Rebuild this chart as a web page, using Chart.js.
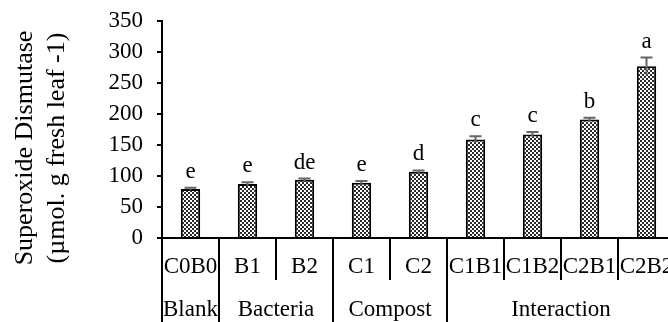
<!DOCTYPE html>
<html>
<head>
<meta charset="utf-8">
<script src="https://cdn.jsdelivr.net/npm/chart.js@4.4.0/dist/chart.umd.min.js"></script>
<style>
html, body { margin: 0; padding: 0; overflow: hidden; background: #fff; }
#wrap { width: 680px; height: 322px; }
#myChart { width: 680px; height: 322px; }
</style>
</head>
<body>
<div id="wrap"><canvas id="myChart" width="680" height="322"></canvas></div>
<script>
// datos
var categories = ['C0B0', 'B1', 'B2', 'C1', 'C2', 'C1B1', 'C1B2', 'C2B1', 'C2B2'];
var sodValues = [79, 87, 94, 89, 107, 159, 167, 191, 277];
var sodErrors = [2, 3, 2, 3, 2, 5, 4, 3, 14];
var letters = ['e', 'e', 'de', 'e', 'd', 'c', 'c', 'b', 'a'];
var groups = ['Blank', 'Bacteria', 'Compost', 'Interaction'];
var groupSizes = [1, 2, 2, 4];
var yTitle = ['Superoxide Dismutase', '(\u00b5mol. g fresh leaf -1)'];

var FONT = 'Liberation Serif, Times New Roman, serif';

function makePattern(ctx) {
    var c = document.createElement('canvas');
    c.width = 4; c.height = 4;
    var g = c.getContext('2d');
    g.fillStyle = '#fff';
    g.fillRect(0, 0, 4, 4);
    g.fillStyle = '#2a2a2a';
    g.fillRect(0, 0, 2, 2);
    g.fillRect(2, 2, 2, 2);
    return ctx.createPattern(c, 'repeat');
}

var extras = {
    id: 'extras',
    afterDatasetsDraw: function (chart) {
        var ctx = chart.ctx;
        var x = chart.scales.x, y = chart.scales.y;
        ctx.save();
        // barras de error
        ctx.strokeStyle = '#666';
        ctx.lineWidth = 2;
        sodValues.forEach(function (v, i) {
            var px = x.getPixelForValue(i);
            var top = y.getPixelForValue(v + sodErrors[i]);
            var bot = y.getPixelForValue(v - sodErrors[i]);
            ctx.beginPath();
            ctx.moveTo(px, top); ctx.lineTo(px, bot);
            ctx.moveTo(px - 6, top); ctx.lineTo(px + 6, top);
            ctx.stroke();
        });
        // letras
        ctx.fillStyle = '#000';
        ctx.font = '23px ' + FONT;
        ctx.textAlign = 'center';
        ctx.textBaseline = 'middle';
        letters.forEach(function (l, i) {
            var px = x.getPixelForValue(i);
            var top = y.getPixelForValue(sodValues[i] + sodErrors[i]);
            ctx.fillText(l, px, top - 16);
        });
        ctx.restore();
    },
    afterDraw: function (chart) {
        var ctx = chart.ctx;
        var x = chart.scales.x;
        var area = chart.chartArea;
        var H = chart.height;
        ctx.save();
        // titulo eje y
        ctx.fillStyle = '#000';
        ctx.font = '26px ' + FONT;
        ctx.textAlign = 'center';
        ctx.textBaseline = 'middle';
        ctx.translate(0, 148);
        ctx.rotate(-Math.PI / 2);
        ctx.fillText(yTitle[0], 0, 25);
        ctx.fillText(yTitle[1], 0, 57);
        ctx.restore();

        // divisiones del eje x
        ctx.save();
        ctx.strokeStyle = '#000';
        ctx.lineWidth = 2;
        var half = (x.getPixelForValue(1) - x.getPixelForValue(0)) / 2;
        var full = {};
        var acc = 0;
        groupSizes.forEach(function (s) { full[acc] = true; acc += s; });
        for (var i = 0; i < categories.length; i++) {
            var bx = x.getPixelForValue(i) - half;
            if (i === 0) bx = area.left;
            ctx.beginPath();
            ctx.moveTo(bx, area.bottom);
            ctx.lineTo(bx, full[i] ? H : 280);
            ctx.stroke();
        }
        // grupos
        ctx.fillStyle = '#000';
        ctx.font = '23px ' + FONT;
        ctx.textAlign = 'center';
        ctx.textBaseline = 'middle';
        acc = 0;
        groups.forEach(function (g, k) {
            var a = x.getPixelForValue(acc) - half;
            var b = x.getPixelForValue(acc + groupSizes[k] - 1) + half;
            ctx.fillText(g, (a + b) / 2, 310);
            acc += groupSizes[k];
        });
        ctx.restore();
    }
};

var ctx = document.getElementById('myChart').getContext('2d');
new Chart(ctx, {
    type: 'bar',
    data: {
        labels: categories,
        datasets: [{
            label: 'SOD',
            data: sodValues,
            backgroundColor: makePattern(ctx),
            borderColor: '#000',
            borderWidth: 2,
            barPercentage: 0.34,
            categoryPercentage: 1
        }]
    },
    plugins: [extras],
    options: {
        responsive: false,
        animation: false,
        layout: { padding: { top: 21, right: 5, left: 0, bottom: 0 } },
        plugins: { legend: { display: false }, tooltip: { enabled: false } },
        scales: {
            x: {
                afterFit: function (s) { s.height = 84; s.paddingLeft = 0; s.paddingRight = 0; },
                grid: { drawOnChartArea: false, drawTicks: false },
                border: { color: '#000', width: 2 },
                ticks: {
                    color: '#000', font: { family: FONT, size: 23 },
                    padding: 15, autoSkip: false, maxRotation: 0, minRotation: 0
                }
            },
            y: {
                min: 0,
                max: 350,
                afterFit: function (s) { s.width = 162; s.paddingTop = 0; s.paddingBottom = 0; },
                grid: { drawOnChartArea: false, drawTicks: true, tickLength: 5, color: '#000', lineWidth: 2 },
                border: { color: '#000', width: 2 },
                ticks: { stepSize: 50, autoSkip: false, color: '#000', font: { family: FONT, size: 23 }, padding: 14 }
            }
        }
    }
});
</script>
</body>
</html>
